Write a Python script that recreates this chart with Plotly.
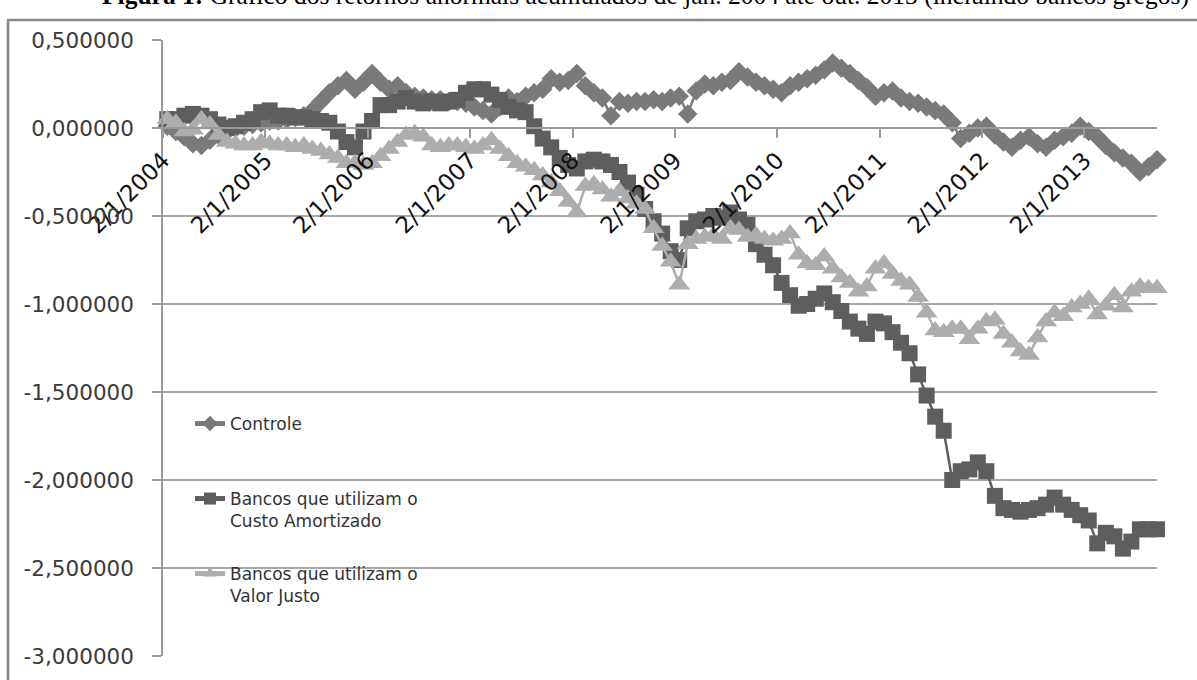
import plotly.graph_objects as go

# Monthly cumulative abnormal returns, Jan 2004 .. Oct 2013 (118 months)
controle = [
    0.02, 0.01, -0.02, -0.05, -0.09, -0.10, -0.07, -0.04, -0.02, 0.00, 0.01, 0.02,
    0.03, 0.04, 0.04, 0.05, 0.06, 0.07, 0.10, 0.15, 0.20, 0.24, 0.27, 0.22,
    0.26, 0.31, 0.26, 0.22, 0.24, 0.20, 0.18, 0.17, 0.16, 0.16, 0.15, 0.15,
    0.14, 0.12, 0.10, 0.08, 0.12, 0.17, 0.15, 0.18, 0.20, 0.22, 0.28, 0.26,
    0.27, 0.31, 0.24, 0.20, 0.17, 0.07, 0.15, 0.14, 0.15, 0.15, 0.16, 0.15,
    0.17, 0.18, 0.08, 0.21, 0.25, 0.24, 0.26, 0.27, 0.32, 0.29, 0.26, 0.24,
    0.22, 0.20, 0.24, 0.26, 0.28, 0.30, 0.33, 0.37, 0.34, 0.31, 0.27, 0.23,
    0.18, 0.20, 0.21, 0.17, 0.15, 0.14, 0.12, 0.10, 0.08, 0.03, -0.06, -0.03,
    0.00, 0.01, -0.04, -0.08, -0.11, -0.07, -0.05, -0.09, -0.11, -0.07, -0.05, -0.03,
    0.01, -0.02, -0.05, -0.10, -0.14, -0.17, -0.20, -0.25, -0.22, -0.18,
]

custo_amortizado = [
    0.04, 0.05, 0.05, 0.07, 0.08, 0.07, 0.05, 0.02, 0.00, 0.01, 0.03, 0.05,
    0.09, 0.10, 0.07, 0.07, 0.06, 0.06, 0.05, 0.04, 0.03, -0.02, -0.08, -0.11,
    -0.02, 0.04, 0.13, 0.13, 0.15, 0.17, 0.15, 0.14, 0.15, 0.14, 0.15, 0.16,
    0.20, 0.22, 0.22, 0.19, 0.16, 0.12, 0.10, 0.09, 0.01, -0.06, -0.11, -0.17,
    -0.21, -0.23, -0.19, -0.18, -0.19, -0.21, -0.25, -0.31, -0.38, -0.46, -0.53, -0.60,
    -0.70, -0.75, -0.57, -0.53, -0.52, -0.50, -0.51, -0.48, -0.52, -0.55, -0.66, -0.72,
    -0.78, -0.88, -0.95, -1.01, -1.00, -0.97, -0.94, -0.99, -1.04, -1.10, -1.14, -1.17,
    -1.10, -1.11, -1.16, -1.22, -1.28, -1.40, -1.52, -1.64, -1.72, -2.00, -1.95, -1.94,
    -1.90, -1.95, -2.09, -2.16, -2.17, -2.18, -2.17, -2.16, -2.14, -2.10, -2.14, -2.17,
    -2.20, -2.23, -2.36, -2.30, -2.32, -2.39, -2.35, -2.28, -2.28, -2.28,
]

valor_justo = [
    0.00, 0.05, 0.03, -0.02, -0.01, 0.05, 0.02, -0.04, -0.08, -0.09, -0.10, -0.10,
    -0.08, -0.09, -0.10, -0.10, -0.11, -0.10, -0.12, -0.13, -0.15, -0.17, -0.20, -0.20,
    -0.21, -0.20, -0.16, -0.12, -0.08, -0.04, -0.03, -0.05, -0.10, -0.11, -0.10, -0.10,
    -0.11, -0.12, -0.10, -0.07, -0.12, -0.16, -0.20, -0.22, -0.24, -0.27, -0.31, -0.36,
    -0.42, -0.48, -0.33, -0.32, -0.35, -0.39, -0.36, -0.40, -0.43, -0.46, -0.57, -0.67,
    -0.76, -0.89, -0.66, -0.63, -0.62, -0.61, -0.63, -0.57, -0.58, -0.62, -0.61, -0.63,
    -0.64, -0.63, -0.60, -0.72, -0.77, -0.78, -0.73, -0.80, -0.85, -0.88, -0.93, -0.90,
    -0.80, -0.77, -0.83, -0.87, -0.89, -0.96, -1.05, -1.15, -1.16, -1.14, -1.14, -1.20,
    -1.14, -1.10, -1.09, -1.17, -1.22, -1.27, -1.29, -1.19, -1.10, -1.05, -1.07, -1.02,
    -1.00, -0.97, -1.06, -1.01, -0.95, -1.02, -0.93, -0.90, -0.91, -0.91,
]

x_tick_labels = ["2/1/2004", "2/1/2005", "2/1/2006", "2/1/2007", "2/1/2008",
                 "2/1/2009", "2/1/2010", "2/1/2011", "2/1/2012", "2/1/2013"]
y_tick_values = [0.5, 0.0, -0.5, -1.0, -1.5, -2.0, -2.5, -3.0]

months = list(range(len(controle)))
x_tick_values = [0.5 + 12 * k for k in range(len(x_tick_labels))]
y_tick_text = [f"{v:.6f}".replace(".", ",") for v in y_tick_values]

W, H = 1197, 680
M_L, M_R, M_T, M_B = 163, 40, 40, 24
PW, PH = W - M_L - M_R, H - M_T - M_B


def px_x(p):
    return (p - M_L) / PW


def px_y(p):
    return (H - M_B - p) / PH


fig = go.Figure()

series = [
    ("Controle", controle, "#7a7a7a", "diamond", 15, "legend"),
    ("Bancos que utilizam o<br>Custo Amortizado", custo_amortizado, "#5e5e5e", "square", 16, "legend2"),
    ("Bancos que utilizam o<br>Valor Justo", valor_justo, "#adadad", "triangle-up", 19, "legend3"),
]
for name, vals, color, symbol, size, leg in series:
    fig.add_trace(go.Scatter(
        x=months, y=vals, name=name, mode="lines+markers",
        line=dict(color=color, width=2.5),
        marker=dict(color=color, symbol=symbol, size=size, line=dict(width=0)),
        cliponaxis=False, legend=leg, showlegend=True,
    ))

legend_common = dict(
    bgcolor="rgba(0,0,0,0)", borderwidth=0, xanchor="left", yanchor="middle",
    valign="top", itemsizing="constant", itemclick=False,
    font=dict(family="DejaVu Sans", size=17, color="#333333"),
    x=px_x(190), visible=True,
)

frame_color = "#888888"

fig.update_layout(
    width=W, height=H, showlegend=True,
    margin=dict(l=M_L, r=M_R, t=M_T, b=M_B, autoexpand=False),
    paper_bgcolor="white", plot_bgcolor="white",
    legend=dict(legend_common, y=px_y(424)),
    legend2=dict(legend_common, y=px_y(510)),
    legend3=dict(legend_common, y=px_y(585)),
    xaxis=dict(
        range=[0.5, len(controle) - 1], tickmode="array",
        tickvals=x_tick_values, ticktext=x_tick_labels, tickangle=-45,
        anchor="free", position=3.0 / 3.5,
        showline=True, linecolor="#9a9a9a", linewidth=1.5,
        ticks="outside", ticklen=9, tickcolor="#9a9a9a", tickwidth=1.5,
        showgrid=False, zeroline=False,
        tickfont=dict(family="DejaVu Sans", size=23, color="#111111"),
    ),
    yaxis=dict(
        range=[-3.0, 0.5], tickmode="array",
        tickvals=y_tick_values, ticktext=y_tick_text,
        showgrid=True, gridcolor="#a8a8a8", gridwidth=1.5,
        showline=True, linecolor="#9a9a9a", linewidth=1.5,
        ticks="outside", ticklen=9, tickcolor="#9a9a9a", tickwidth=1.5,
        zeroline=False, ticklabelstandoff=14,
        tickfont=dict(family="DejaVu Sans", size=21.5, color="#3a3a3a"),
    ),
    shapes=[
        # white panel behind the legend entries
        dict(type="rect", xref="paper", yref="y", layer="between",
             x0=px_x(164), x1=px_x(454), y0=-2.72, y1=-1.35,
             fillcolor="white", line=dict(width=0)),
        # outer chart frame: left and top edges
        dict(type="line", xref="paper", yref="paper", layer="below",
             x0=px_x(8), x1=px_x(8), y0=px_y(720), y1=px_y(20),
             line=dict(color=frame_color, width=2.5)),
        dict(type="line", xref="paper", yref="paper", layer="below",
             x0=px_x(7), x1=px_x(1197), y0=px_y(20), y1=px_y(20),
             line=dict(color=frame_color, width=2.5)),
    ],
    annotations=[
        dict(text="<b>Figura 1:</b> Gráfico dos retornos anormais acumulados de jan. 2004 até out. 2013 (incluindo bancos gregos)",
             xref="paper", yref="paper", x=px_x(100), y=px_y(-5),
             xanchor="left", yanchor="middle", showarrow=False,
             font=dict(family="Liberation Serif", size=25.5, color="black")),
    ],
)

fig.write_html("out.html")
